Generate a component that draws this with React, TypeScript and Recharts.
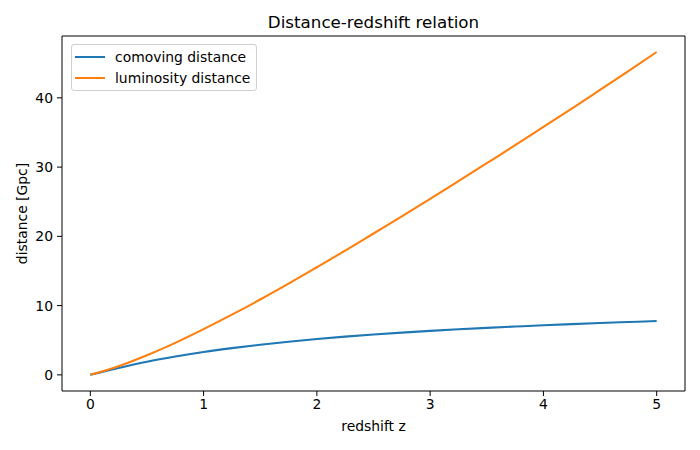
import React from 'react';
import { LineChart, Line, XAxis, YAxis, Label, ReferenceLine } from 'recharts';

// redshift samples and distances (Gpc)
const redshift = [0, 0.25, 0.5, 0.75, 1, 1.25, 1.5, 1.75, 2, 2.25, 2.5, 2.75, 3, 3.25, 3.5, 3.75, 4, 4.25, 4.5, 4.75, 5];
const comoving = [0, 1.0, 1.89, 2.64, 3.3, 3.86, 4.35, 4.79, 5.18, 5.52, 5.83, 6.1, 6.35, 6.58, 6.79, 6.98, 7.16, 7.32, 7.48, 7.63, 7.77];
const luminosity = [0, 1.25, 2.83, 4.62, 6.6, 8.69, 10.88, 13.17, 15.54, 17.94, 20.41, 22.88, 25.4, 27.97, 30.56, 33.16, 35.8, 38.43, 41.14, 43.87, 46.62];
const xTicks = [0, 1, 2, 3, 4, 5];
const yTicks = [0, 10, 20, 30, 40];

const data = redshift.map((z, i) => ({ z, dc: comoving[i], dl: luminosity[i] }));

const X_DOMAIN = [-0.25, 5.25];
const Y_DOMAIN = [-2.33, 48.93];
const FONT = 'DejaVu Sans, sans-serif';
const tickStyle = { fontSize: 13.9, fill: '#000', fontFamily: FONT };

const App = () => {
  return (
    <div style={{ position: 'fixed', top: 0, left: 0, width: 700, height: 450, background: '#fff' }}>
      <div
        style={{
          position: 'absolute', top: 12, left: 62, width: 623, textAlign: 'center',
          fontFamily: FONT, fontSize: 16.7, color: '#000',
        }}
      >
        Distance-redshift relation
      </div>
      <LineChart width={700} height={450} data={data} margin={{ top: 36, right: 15, bottom: 0, left: 0 }}>
        <XAxis
          dataKey="z"
          type="number"
          domain={X_DOMAIN}
          ticks={xTicks}
          allowDataOverflow
          height={59}
          tick={tickStyle}
          tickSize={5}
          tickMargin={3}
          stroke="#000"
          tickLine={{ stroke: '#000' }}
        >
          <Label value="redshift z" position="insideBottom" offset={19} style={{ fontSize: 13.9, fill: '#000', fontFamily: FONT }} />
        </XAxis>
        <YAxis
          type="number"
          domain={Y_DOMAIN}
          ticks={yTicks}
          allowDataOverflow
          width={62}
          tick={tickStyle}
          tickSize={5}
          tickMargin={4}
          stroke="#000"
          tickLine={{ stroke: '#000' }}
        >
          <Label
            value="distance [Gpc]"
            angle={-90}
            position="insideLeft"
            offset={22}
            style={{ fontSize: 13.9, fill: '#000', fontFamily: FONT, textAnchor: 'middle' }}
          />
        </YAxis>
        {/* top and right spines */}
        <ReferenceLine y={Y_DOMAIN[1]} stroke="#000" strokeWidth={1} />
        <ReferenceLine x={X_DOMAIN[1]} stroke="#000" strokeWidth={1} />
        <Line dataKey="dc" type="monotone" stroke="#1f77b4" strokeWidth={2.1} dot={false} isAnimationActive={false} />
        <Line dataKey="dl" type="monotone" stroke="#ff7f0e" strokeWidth={2.1} dot={false} isAnimationActive={false} />
      </LineChart>
      <div
        style={{
          position: 'absolute', top: 44, left: 71, width: 184, height: 45,
          border: '1px solid #d0d0d0', borderRadius: 3, background: 'rgba(255,255,255,0.8)',
          fontFamily: FONT, fontSize: 13.9, color: '#000',
        }}
      >
        {[
          { name: 'comoving distance', color: '#1f77b4' },
          { name: 'luminosity distance', color: '#ff7f0e' },
        ].map((item, i) => (
          <div key={item.name} style={{ position: 'absolute', top: 2 + i * 20.5, left: 3, height: 20, display: 'flex', alignItems: 'center' }}>
            <span style={{ display: 'inline-block', width: 30, height: 2, background: item.color, marginRight: 10 }} />
            <span>{item.name}</span>
          </div>
        ))}
      </div>
    </div>
  );
};

export default App;
